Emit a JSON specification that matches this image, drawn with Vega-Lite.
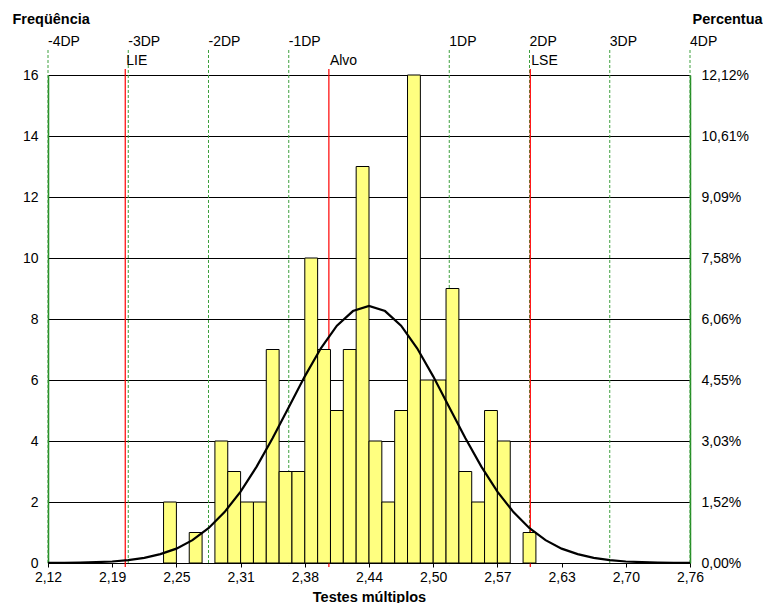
{
  "$schema": "https://vega.github.io/schema/vega-lite/v6.json",
  "width": 642,
  "height": 488,
  "autosize": {"type": "none"},
  "padding": {"left": 48, "top": 75, "right": 73, "bottom": 40},
  "background": "white",
  "config": {
    "font": "Liberation Sans",
    "view": {"stroke": null},
    "axis": {"labelFont": "Liberation Sans", "titleFont": "Liberation Sans", "labelColor": "#000", "titleColor": "#000", "labelFontSize": 14, "titleFontSize": 14.5, "titleFontWeight": "bold"}
  },
  "datasets": {
    "bins": [
      {"start": 2.2352, "end": 2.2480, "count": 2},
      {"start": 2.2608, "end": 2.2736, "count": 1},
      {"start": 2.2864, "end": 2.2992, "count": 4},
      {"start": 2.2992, "end": 2.3120, "count": 3},
      {"start": 2.3120, "end": 2.3248, "count": 2},
      {"start": 2.3248, "end": 2.3376, "count": 2},
      {"start": 2.3376, "end": 2.3504, "count": 7},
      {"start": 2.3504, "end": 2.3632, "count": 3},
      {"start": 2.3632, "end": 2.3760, "count": 3},
      {"start": 2.3760, "end": 2.3888, "count": 10},
      {"start": 2.3888, "end": 2.4016, "count": 7},
      {"start": 2.4016, "end": 2.4144, "count": 5},
      {"start": 2.4144, "end": 2.4272, "count": 7},
      {"start": 2.4272, "end": 2.4400, "count": 13},
      {"start": 2.4400, "end": 2.4528, "count": 4},
      {"start": 2.4528, "end": 2.4656, "count": 2},
      {"start": 2.4656, "end": 2.4784, "count": 5},
      {"start": 2.4784, "end": 2.4912, "count": 16},
      {"start": 2.4912, "end": 2.5040, "count": 6},
      {"start": 2.5040, "end": 2.5168, "count": 6},
      {"start": 2.5168, "end": 2.5296, "count": 9},
      {"start": 2.5296, "end": 2.5424, "count": 3},
      {"start": 2.5424, "end": 2.5552, "count": 2},
      {"start": 2.5552, "end": 2.5680, "count": 5},
      {"start": 2.5680, "end": 2.5808, "count": 4},
      {"start": 2.5936, "end": 2.6064, "count": 1}
    ],
    "curve": [
      {"x": 2.120, "y": 0.003}, {"x": 2.136, "y": 0.006}, {"x": 2.152, "y": 0.013}, {"x": 2.168, "y": 0.026},
      {"x": 2.184, "y": 0.05}, {"x": 2.200, "y": 0.094}, {"x": 2.216, "y": 0.17}, {"x": 2.232, "y": 0.29},
      {"x": 2.248, "y": 0.47}, {"x": 2.264, "y": 0.75}, {"x": 2.280, "y": 1.14}, {"x": 2.296, "y": 1.67},
      {"x": 2.312, "y": 2.34}, {"x": 2.328, "y": 3.16}, {"x": 2.344, "y": 4.10}, {"x": 2.360, "y": 5.11},
      {"x": 2.376, "y": 6.12}, {"x": 2.392, "y": 7.04}, {"x": 2.408, "y": 7.78}, {"x": 2.424, "y": 8.26},
      {"x": 2.440, "y": 8.43},
      {"x": 2.456, "y": 8.26}, {"x": 2.472, "y": 7.78}, {"x": 2.488, "y": 7.04}, {"x": 2.504, "y": 6.12},
      {"x": 2.520, "y": 5.11}, {"x": 2.536, "y": 4.10}, {"x": 2.552, "y": 3.16}, {"x": 2.568, "y": 2.34},
      {"x": 2.584, "y": 1.67}, {"x": 2.600, "y": 1.14}, {"x": 2.616, "y": 0.75}, {"x": 2.632, "y": 0.47},
      {"x": 2.648, "y": 0.29}, {"x": 2.664, "y": 0.17}, {"x": 2.680, "y": 0.094}, {"x": 2.696, "y": 0.05},
      {"x": 2.712, "y": 0.026}, {"x": 2.728, "y": 0.013}, {"x": 2.744, "y": 0.006}, {"x": 2.760, "y": 0.003}
    ],
    "dp": [
      {"v": 2.12, "label": "-4DP"}, {"v": 2.20, "label": "-3DP"}, {"v": 2.28, "label": "-2DP"}, {"v": 2.36, "label": "-1DP"},
      {"v": 2.52, "label": "1DP"}, {"v": 2.60, "label": "2DP"}, {"v": 2.68, "label": "3DP"}, {"v": 2.76, "label": "4DP"}
    ],
    "spec": [
      {"v": 2.197, "label": "LIE"}, {"v": 2.40, "label": "Alvo"}, {"v": 2.6008, "label": "LSE"}
    ]
  },
  "resolve": {"axis": {"y": "independent"}},
  "layer": [
    {
      "data": {"name": "dp"},
      "mark": {"type": "rule", "stroke": "#3CA03C", "strokeWidth": 1, "strokeDash": [3, 2]},
      "encoding": {
        "x": {"field": "v", "type": "quantitative", "title": "Testes múltiplos", "scale": {"domain": [2.12, 2.76], "nice": false, "zero": false}},
        "y": {"datum": 16.82, "type": "quantitative", "axis": null, "scale": {"domain": [0, 16], "nice": false}},
        "y2": {"datum": -0.07}
      }
    },
    {
      "data": {"name": "spec"},
      "mark": {"type": "rule", "stroke": "#FF0000", "strokeWidth": 1.2},
      "encoding": {
        "x": {"field": "v", "type": "quantitative", "title": "Testes múltiplos"},
        "y": {"datum": 16.2, "type": "quantitative", "axis": null},
        "y2": {"datum": -0.13}
      }
    },
    {
      "data": {"name": "bins"},
      "mark": {"type": "rect", "fill": "#FFFF80", "stroke": "#000", "strokeWidth": 1},
      "encoding": {
        "x": {"field": "start", "type": "quantitative", "title": "Testes múltiplos",
          "axis": {"values": [2.12, 2.184, 2.248, 2.312, 2.376, 2.44, 2.504, 2.568, 2.632, 2.696, 2.76],
            "labelExpr": "['2,12','2,19','2,25','2,31','2,38','2,44','2,50','2,57','2,63','2,70','2,76'][round((datum.value-2.12)/0.064)]",
            "domainColor": "#000", "tickColor": "#000", "tickSize": 4, "labelPadding": 3, "labelFlush": false, "grid": false, "titlePadding": 6}},
        "x2": {"field": "end"},
        "y": {"field": "count", "type": "quantitative",
          "axis": {"orient": "left", "title": "Freqüência", "titleAngle": 0, "titleAlign": "left", "titleBaseline": "middle", "titleX": -36, "titleY": -56,
            "values": [0, 2, 4, 6, 8, 10, 12, 14, 16], "grid": true, "gridColor": "#000", "gridOpacity": 1, "gridWidth": 1,
            "ticks": false, "labelPadding": 10, "domainColor": "#228B22", "domainWidth": 1.5, "format": "d"}},
        "y2": {"datum": 0}
      }
    },
    {
      "data": {"name": "curve"},
      "mark": {"type": "line", "stroke": "#000", "strokeWidth": 2.2},
      "encoding": {
        "x": {"field": "x", "type": "quantitative", "title": "Testes múltiplos"},
        "y": {"field": "y", "type": "quantitative",
          "axis": {"orient": "right", "title": "Percentual", "titleAngle": 0, "titleAlign": "left", "titleBaseline": "middle", "titleX": 2, "titleY": -56,
            "values": [0, 2, 4, 6, 8, 10, 12, 14, 16], "grid": false, "ticks": false, "labelPadding": 11,
            "domainColor": "#228B22", "domainWidth": 1.5,
            "labelExpr": "replace(format(datum.value/132*100, '.2f'), '.', ',') + '%'"}}
      }
    },
    {
      "data": {"name": "dp"},
      "mark": {"type": "text", "align": "left", "baseline": "middle", "fontSize": 14, "color": "#000", "font": "Liberation Sans"},
      "encoding": {
        "x": {"field": "v", "type": "quantitative", "title": "Testes múltiplos"},
        "y": {"datum": 17.09, "type": "quantitative", "axis": null},
        "text": {"field": "label"}
      }
    },
    {
      "data": {"name": "spec"},
      "mark": {"type": "text", "align": "left", "baseline": "middle", "fontSize": 14, "color": "#000", "font": "Liberation Sans", "dx": 1},
      "encoding": {
        "x": {"field": "v", "type": "quantitative", "title": "Testes múltiplos"},
        "y": {"datum": 16.46, "type": "quantitative", "axis": null},
        "text": {"field": "label"}
      }
    }
  ]
}
